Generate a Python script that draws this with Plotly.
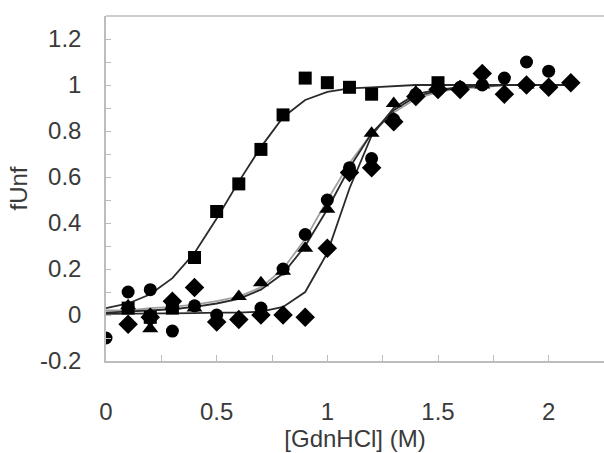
import plotly.graph_objects as go

# ---- measured data ----
sq_x = [0.1, 0.2, 0.3, 0.4, 0.5, 0.6, 0.7, 0.8, 0.9, 1.0, 1.1, 1.2, 1.5]
sq_y = [0.03, -0.01, 0.03, 0.25, 0.45, 0.57, 0.72, 0.87, 1.03, 1.01, 0.99, 0.96, 1.01]

ci_x = [0.0, 0.1, 0.2, 0.3, 0.4, 0.5, 0.7, 0.8, 0.9, 1.0, 1.1, 1.2, 1.3, 1.4, 1.5, 1.6, 1.7, 1.8, 1.9, 2.0]
ci_y = [-0.10, 0.10, 0.11, -0.07, 0.04, 0.00, 0.03, 0.20, 0.35, 0.50, 0.64, 0.68, 0.85, 0.96, 0.98, 0.99, 1.00, 1.03, 1.10, 1.06]

tr_x = [0.1, 0.2, 0.3, 0.4, 0.6, 0.7, 0.8, 0.9, 1.0, 1.1, 1.2, 1.3, 1.4, 1.6, 1.7, 1.9, 2.0]
tr_y = [0.04, -0.06, 0.04, 0.03, 0.08, 0.14, 0.19, 0.29, 0.46, 0.63, 0.79, 0.92, 0.97, 0.99, 1.00, 1.00, 1.00]

di_x = [0.1, 0.2, 0.3, 0.4, 0.5, 0.6, 0.7, 0.8, 0.9, 1.0, 1.1, 1.2, 1.3, 1.4, 1.5, 1.6, 1.7, 1.8, 1.9, 2.0, 2.1]
di_y = [-0.04, -0.01, 0.06, 0.12, -0.03, -0.02, 0.00, 0.00, -0.01, 0.29, 0.62, 0.64, 0.84, 0.95, 0.98, 0.98, 1.05, 0.96, 1.00, 0.99, 1.01]

fit_x = [0.0, 0.1, 0.2, 0.3, 0.4, 0.5, 0.6, 0.7, 0.8, 0.9, 1.0, 1.1, 1.2, 1.3, 1.4, 1.5, 1.6, 1.7, 1.8, 1.9, 2.0, 2.1]
fit_sq = [0.03, 0.05, 0.09, 0.16, 0.27, 0.42, 0.58, 0.73, 0.86, 0.935, 0.97, 0.985, 0.99, 0.995, 1.0, 1.0, 1.0, 1.0, 1.0, 1.0, 1.0, 1.0]
fit_ci = [0.02, 0.02, 0.03, 0.035, 0.045, 0.06, 0.08, 0.12, 0.20, 0.33, 0.50, 0.66, 0.79, 0.88, 0.94, 0.97, 0.985, 0.99, 1.0, 1.0, 1.0, 1.0]
fit_tr = [0.01, 0.015, 0.02, 0.025, 0.035, 0.05, 0.07, 0.11, 0.18, 0.30, 0.46, 0.64, 0.79, 0.89, 0.95, 0.975, 0.99, 0.995, 1.0, 1.0, 1.0, 1.0]
fit_di = [0.005, 0.005, 0.005, 0.007, 0.008, 0.01, 0.01, 0.015, 0.035, 0.10, 0.27, 0.55, 0.78, 0.90, 0.96, 0.98, 0.99, 1.0, 1.0, 1.0, 1.0, 1.0]

x_title = "[GdnHCl] (M)"
y_title = "fUnf"

fig = go.Figure()

# fit lines
fig.add_trace(go.Scatter(x=fit_x, y=fit_ci, mode="lines", line=dict(color="#a0a0a0", width=1.8), showlegend=False))
fig.add_trace(go.Scatter(x=fit_x, y=fit_tr, mode="lines", line=dict(color="#2a2a2a", width=1.8), showlegend=False))
fig.add_trace(go.Scatter(x=fit_x, y=fit_di, mode="lines", line=dict(color="#2a2a2a", width=1.8), showlegend=False))
fig.add_trace(go.Scatter(x=fit_x, y=fit_sq, mode="lines", line=dict(color="#2a2a2a", width=1.8), showlegend=False))

mk = dict(color="black", size=13, line=dict(width=0))
fig.add_trace(go.Scatter(x=sq_x, y=sq_y, mode="markers", marker=dict(mk, symbol="square"), showlegend=False))
fig.add_trace(go.Scatter(x=ci_x, y=ci_y, mode="markers", marker=dict(mk, symbol="circle"), showlegend=False))
fig.add_trace(go.Scatter(x=tr_x, y=tr_y, mode="markers", marker=dict(mk, symbol="triangle-up", size=14), showlegend=False))
fig.add_trace(go.Scatter(x=di_x, y=di_y, mode="markers", marker=dict(mk, symbol="diamond", size=15), showlegend=False))

axis_col = "#bdbdbd"
font_col = "#3a3a3a"
fs = 24

fig.update_layout(
    width=604, height=453,
    margin=dict(l=106, r=0, t=16, b=92),
    paper_bgcolor="white", plot_bgcolor="white",
    font=dict(family="Liberation Sans, Arial, sans-serif", size=fs, color=font_col),
    xaxis=dict(
        range=[0, 2.25], tickmode="array", tickvals=[0, 0.5, 1, 1.5, 2], ticktext=["0", "0.5", "1", "1.5", "2"],
        showgrid=False, zeroline=False, showline=True, linecolor=axis_col, linewidth=1.5,
        ticks="inside", ticklen=6, tickcolor=axis_col, tickwidth=1,
        minor=dict(tickvals=[0.25, 0.75, 1.25, 1.75], ticks="inside", ticklen=6, tickcolor=axis_col, tickwidth=1),
        ticklabelstandoff=28,
        title=dict(text=x_title, standoff=6, font=dict(size=fs, color=font_col)),
    ),
    yaxis=dict(
        range=[-0.2, 1.3], tickmode="array", tickvals=[-0.2, 0, 0.2, 0.4, 0.6, 0.8, 1.0, 1.2],
        ticktext=["-0.2", "0", "0.2", "0.4", "0.6", "0.8", "1", "1.2"],
        showgrid=False, zeroline=False, showline=True, linecolor=axis_col, linewidth=1.5,
        ticks="inside", ticklen=5, tickcolor=axis_col, tickwidth=1,
        minor=dict(tickvals=[-0.1, 0.1, 0.3, 0.5, 0.7, 0.9, 1.1], ticks="inside", ticklen=5, tickcolor=axis_col, tickwidth=1),
        ticklabelstandoff=18,
        title=dict(text=y_title, standoff=6, font=dict(size=fs, color=font_col)),
    ),
    shapes=[dict(type="line", xref="paper", yref="paper", x0=0, x1=1, y0=1, y1=1,
                 line=dict(color=axis_col, width=1.5))],
)

fig.write_html("out.html")
